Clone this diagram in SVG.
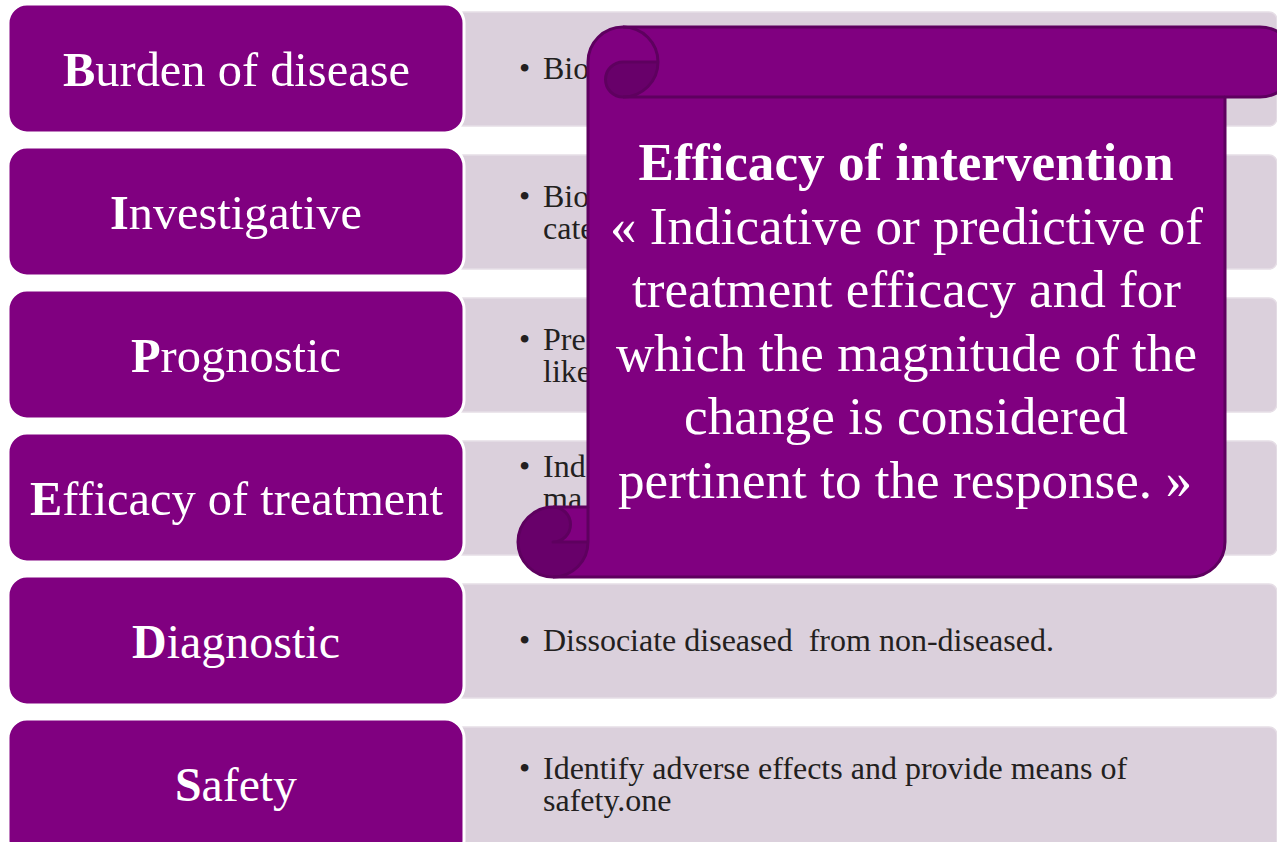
<svg xmlns="http://www.w3.org/2000/svg" width="1277" height="842" viewBox="0 0 1277 842">
  <style>
    .lbox { fill: #800080; stroke: #ffffff; stroke-width: 3; }
    .rbox { fill: #dbd0dc; stroke: #e6dee6; stroke-width: 1.5; }
    .label { font-family: "Liberation Serif", "Times New Roman", serif; font-size: 48px; fill: #ffffff; text-anchor: middle; }
    .body { font-family: "Liberation Serif", "Times New Roman", serif; font-size: 32px; fill: #231f20; }
    .scroll-fill { fill: #800080; }
    .scroll-dark { fill: #68006a; }
    .scroll-line { fill: none; stroke: #5e005f; stroke-width: 3; stroke-linejoin: round; }
    .scroll-text { font-family: "Liberation Serif", "Times New Roman", serif; font-size: 53px; fill: #ffffff; text-anchor: middle; }
  </style>

  <rect width="1277" height="842" fill="#ffffff"/>

  <!-- Each row: description panel, then the category tab on top of it -->
  <g id="row-burden">
    <rect class="rbox" x="455" y="12" width="822" height="114" rx="8"/>
    <text class="body" x="519" y="79">•<tspan x="543">Bio</tspan></text>
    <rect class="lbox" x="8" y="4" width="456" height="129" rx="19"/>
    <text class="label" x="236.5" y="86" textLength="347" lengthAdjust="spacingAndGlyphs"><tspan font-weight="bold">B</tspan>urden of disease</text>
  </g>

  <g id="row-investigative">
    <rect class="rbox" x="455" y="155" width="822" height="114" rx="8"/>
    <text class="body" x="519" y="207">•<tspan x="543">Bio</tspan><tspan x="543" dy="32">cate</tspan></text>
    <rect class="lbox" x="8" y="147" width="456" height="129" rx="19"/>
    <text class="label" x="236" y="229" textLength="252" lengthAdjust="spacingAndGlyphs"><tspan font-weight="bold">I</tspan>nvestigative</text>
  </g>

  <g id="row-prognostic">
    <rect class="rbox" x="455" y="298" width="822" height="114" rx="8"/>
    <text class="body" x="519" y="350">•<tspan x="543">Pre</tspan><tspan x="543" dy="32">like</tspan></text>
    <rect class="lbox" x="8" y="290" width="456" height="129" rx="19"/>
    <text class="label" x="236" y="372" textLength="210" lengthAdjust="spacingAndGlyphs"><tspan font-weight="bold">P</tspan>rognostic</text>
  </g>

  <g id="row-efficacy">
    <rect class="rbox" x="455" y="441" width="822" height="114" rx="8"/>
    <text class="body" x="519" y="477">•<tspan x="543">Ind</tspan><tspan x="543" dy="32">ma</tspan></text>
    <rect class="lbox" x="8" y="433" width="456" height="129" rx="19"/>
    <text class="label" x="236.5" y="515" textLength="413" lengthAdjust="spacingAndGlyphs"><tspan font-weight="bold">E</tspan>fficacy of treatment</text>
  </g>

  <g id="row-diagnostic">
    <rect class="rbox" x="455" y="584" width="822" height="114" rx="8"/>
    <text class="body" x="519" y="651" xml:space="preserve">•<tspan x="543">Dissociate diseased  from non-diseased.</tspan></text>
    <rect class="lbox" x="8" y="576" width="456" height="129" rx="19"/>
    <text class="label" x="236" y="658" textLength="208" lengthAdjust="spacingAndGlyphs"><tspan font-weight="bold">D</tspan>iagnostic</text>
  </g>

  <g id="row-safety">
    <rect class="rbox" x="455" y="727" width="822" height="130" rx="8"/>
    <text class="body" x="519" y="779">•<tspan x="543">Identify adverse effects and provide means of</tspan><tspan x="543" dy="32">safety.one</tspan></text>
    <rect class="lbox" x="8" y="719" width="456" height="140" rx="19"/>
    <text class="label" x="236" y="801" textLength="122" lengthAdjust="spacingAndGlyphs"><tspan font-weight="bold">S</tspan>afety</text>
  </g>

  <!-- Scroll callout laid over the descriptions -->
  <g id="scroll-efficacy-of-intervention">
    <!-- body, top roll and left half of the bottom curl -->
    <path class="scroll-fill" d="M588,507 L588,62 A35,35 0 0 1 623,27 L1260,27 A35,35 0 0 1 1260,97 L1225,97 L1225,542 A35,35 0 0 1 1190,577 L553,577 A35,35 0 0 1 553,507 Z"/>
    <!-- bottom curl: dark roll with the lighter tongue of the sheet -->
    <circle class="scroll-dark" cx="553" cy="542" r="35"/>
    <path class="scroll-fill" d="M553,507 L588,507 L588,542 L553,542 A17.5,17.5 0 0 0 553,507 Z"/>
    <!-- top curl: dark inner roll -->
    <path class="scroll-dark" d="M658,62 A35,35 0 0 1 623,97 A17.5,17.5 0 0 1 623,62 Z"/>

    <!-- outlines -->
    <path class="scroll-line" d="M588,507 L588,62 A35,35 0 0 1 623,27 L1260,27 A35,35 0 0 1 1260,97 L1225,97 L1225,542 A35,35 0 0 1 1190,577 L553,577 A35,35 0 0 1 553,507 Z"/>
    <path class="scroll-line" d="M623,27 A35,35 0 0 1 623,97 A17.5,17.5 0 0 1 623,62 L658,62"/>
    <path class="scroll-line" d="M1225,97 L623,97"/>
    <path class="scroll-line" d="M553,507 A17.5,17.5 0 0 1 553,542 L588,542"/>
    <path class="scroll-line" d="M553,577 A35,35 0 0 0 588,542 L588,507"/>

    <text class="scroll-text" x="906" y="180" font-weight="bold" textLength="535" lengthAdjust="spacingAndGlyphs">Efficacy of intervention</text>
    <text class="scroll-text" x="906.5" y="244" textLength="593" lengthAdjust="spacingAndGlyphs">« Indicative or predictive of</text>
    <text class="scroll-text" x="906.5" y="307" textLength="549" lengthAdjust="spacingAndGlyphs">treatment efficacy and for</text>
    <text class="scroll-text" x="906.5" y="371" textLength="581" lengthAdjust="spacingAndGlyphs">which the magnitude of the</text>
    <text class="scroll-text" x="906" y="434" textLength="444" lengthAdjust="spacingAndGlyphs">change is considered</text>
    <text class="scroll-text" x="905" y="498" textLength="574" lengthAdjust="spacingAndGlyphs">pertinent to the response. »</text>
  </g>
</svg>
